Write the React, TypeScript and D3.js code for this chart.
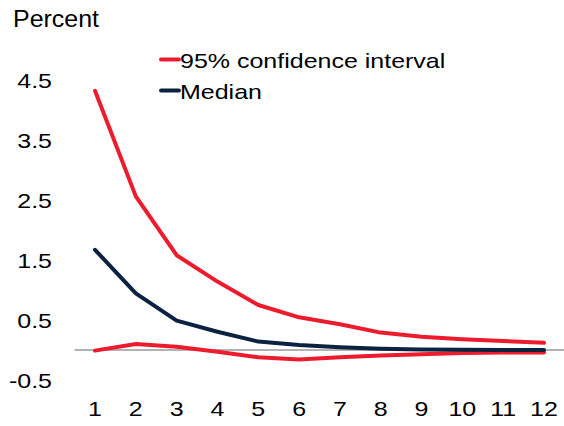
import React from "react";
import * as d3 from "d3";

const periods = [1, 2, 3, 4, 5, 6, 7, 8, 9, 10, 11, 12];
const upperCI = [4.32, 2.56, 1.58, 1.14, 0.75, 0.545, 0.43, 0.29, 0.22, 0.18, 0.15, 0.12];
const median = [1.67, 0.945, 0.49, 0.305, 0.14, 0.083, 0.045, 0.02, 0.008, 0.004, 0.002, 0.0];
const lowerCI = [-0.01, 0.1, 0.055, -0.03, -0.12, -0.16, -0.12, -0.09, -0.07, -0.05, -0.04, -0.04];
const yTicks = [-0.5, 0.5, 1.5, 2.5, 3.5, 4.5];
const yTickLabels = ["-0.5", "0.5", "1.5", "2.5", "3.5", "4.5"];
const legendLabels = ["95% confidence interval", "Median"];

const RED = "#EC1C2E";
const NAVY = "#0B2340";
const W = 564;
const H = 426;
const SX = 1.19;
const FS = 21;
const FONT = "'Liberation Sans', Arial, sans-serif";

export default function App() {
  const x = d3.scaleLinear().domain([0.5, 12.5]).range([74.6, 564.4]);
  const y = d3.scaleLinear().domain([0, 4.5]).range([350, 80]);
  const line = d3
    .line<number>()
    .x((_, i) => x(periods[i]))
    .y((d) => y(d));

  const txt = (
    key: string,
    tx: number,
    ty: number,
    s: string,
    anchor: "start" | "middle" | "end" = "start",
    size = FS,
    sx = SX
  ) => (
    <text
      key={key}
      transform={`translate(${tx},${ty}) scale(${sx},1)`}
      textAnchor={anchor}
      fontFamily={FONT}
      fontSize={size}
      fill="#000"
    >
      {s}
    </text>
  );

  return (
    <svg
      width={W}
      height={H}
      style={{ position: "absolute", left: 0, top: 0, background: "#fff" }}
    >
      {txt("title", 13, 26.5, "Percent", "start", 24, 1.04)}
      {yTicks.map((t, i) => txt("yt" + i, 52, y(t) + 7.5, yTickLabels[i], "end"))}
      {periods.map((p) => txt("xt" + p, x(p), 415.5, String(p), "middle"))}
      <line x1={x(0.5)} x2={x(12.5)} y1={y(0)} y2={y(0)} stroke="#999" strokeWidth={1.5} />
      <path d={line(lowerCI) || ""} fill="none" stroke={RED} strokeWidth={4} strokeLinejoin="round" strokeLinecap="round" />
      <path d={line(upperCI) || ""} fill="none" stroke={RED} strokeWidth={4} strokeLinejoin="round" strokeLinecap="round" />
      <path d={line(median) || ""} fill="none" stroke={NAVY} strokeWidth={4} strokeLinejoin="round" strokeLinecap="round" />
      <line x1={161} x2={179} y1={59.5} y2={59.5} stroke={RED} strokeWidth={4} strokeLinecap="round" />
      {txt("lg0", 180, 67.5, legendLabels[0])}
      <line x1={161} x2={179} y1={90.5} y2={90.5} stroke={NAVY} strokeWidth={4} strokeLinecap="round" />
      {txt("lg1", 180, 98.5, legendLabels[1])}
    </svg>
  );
}
